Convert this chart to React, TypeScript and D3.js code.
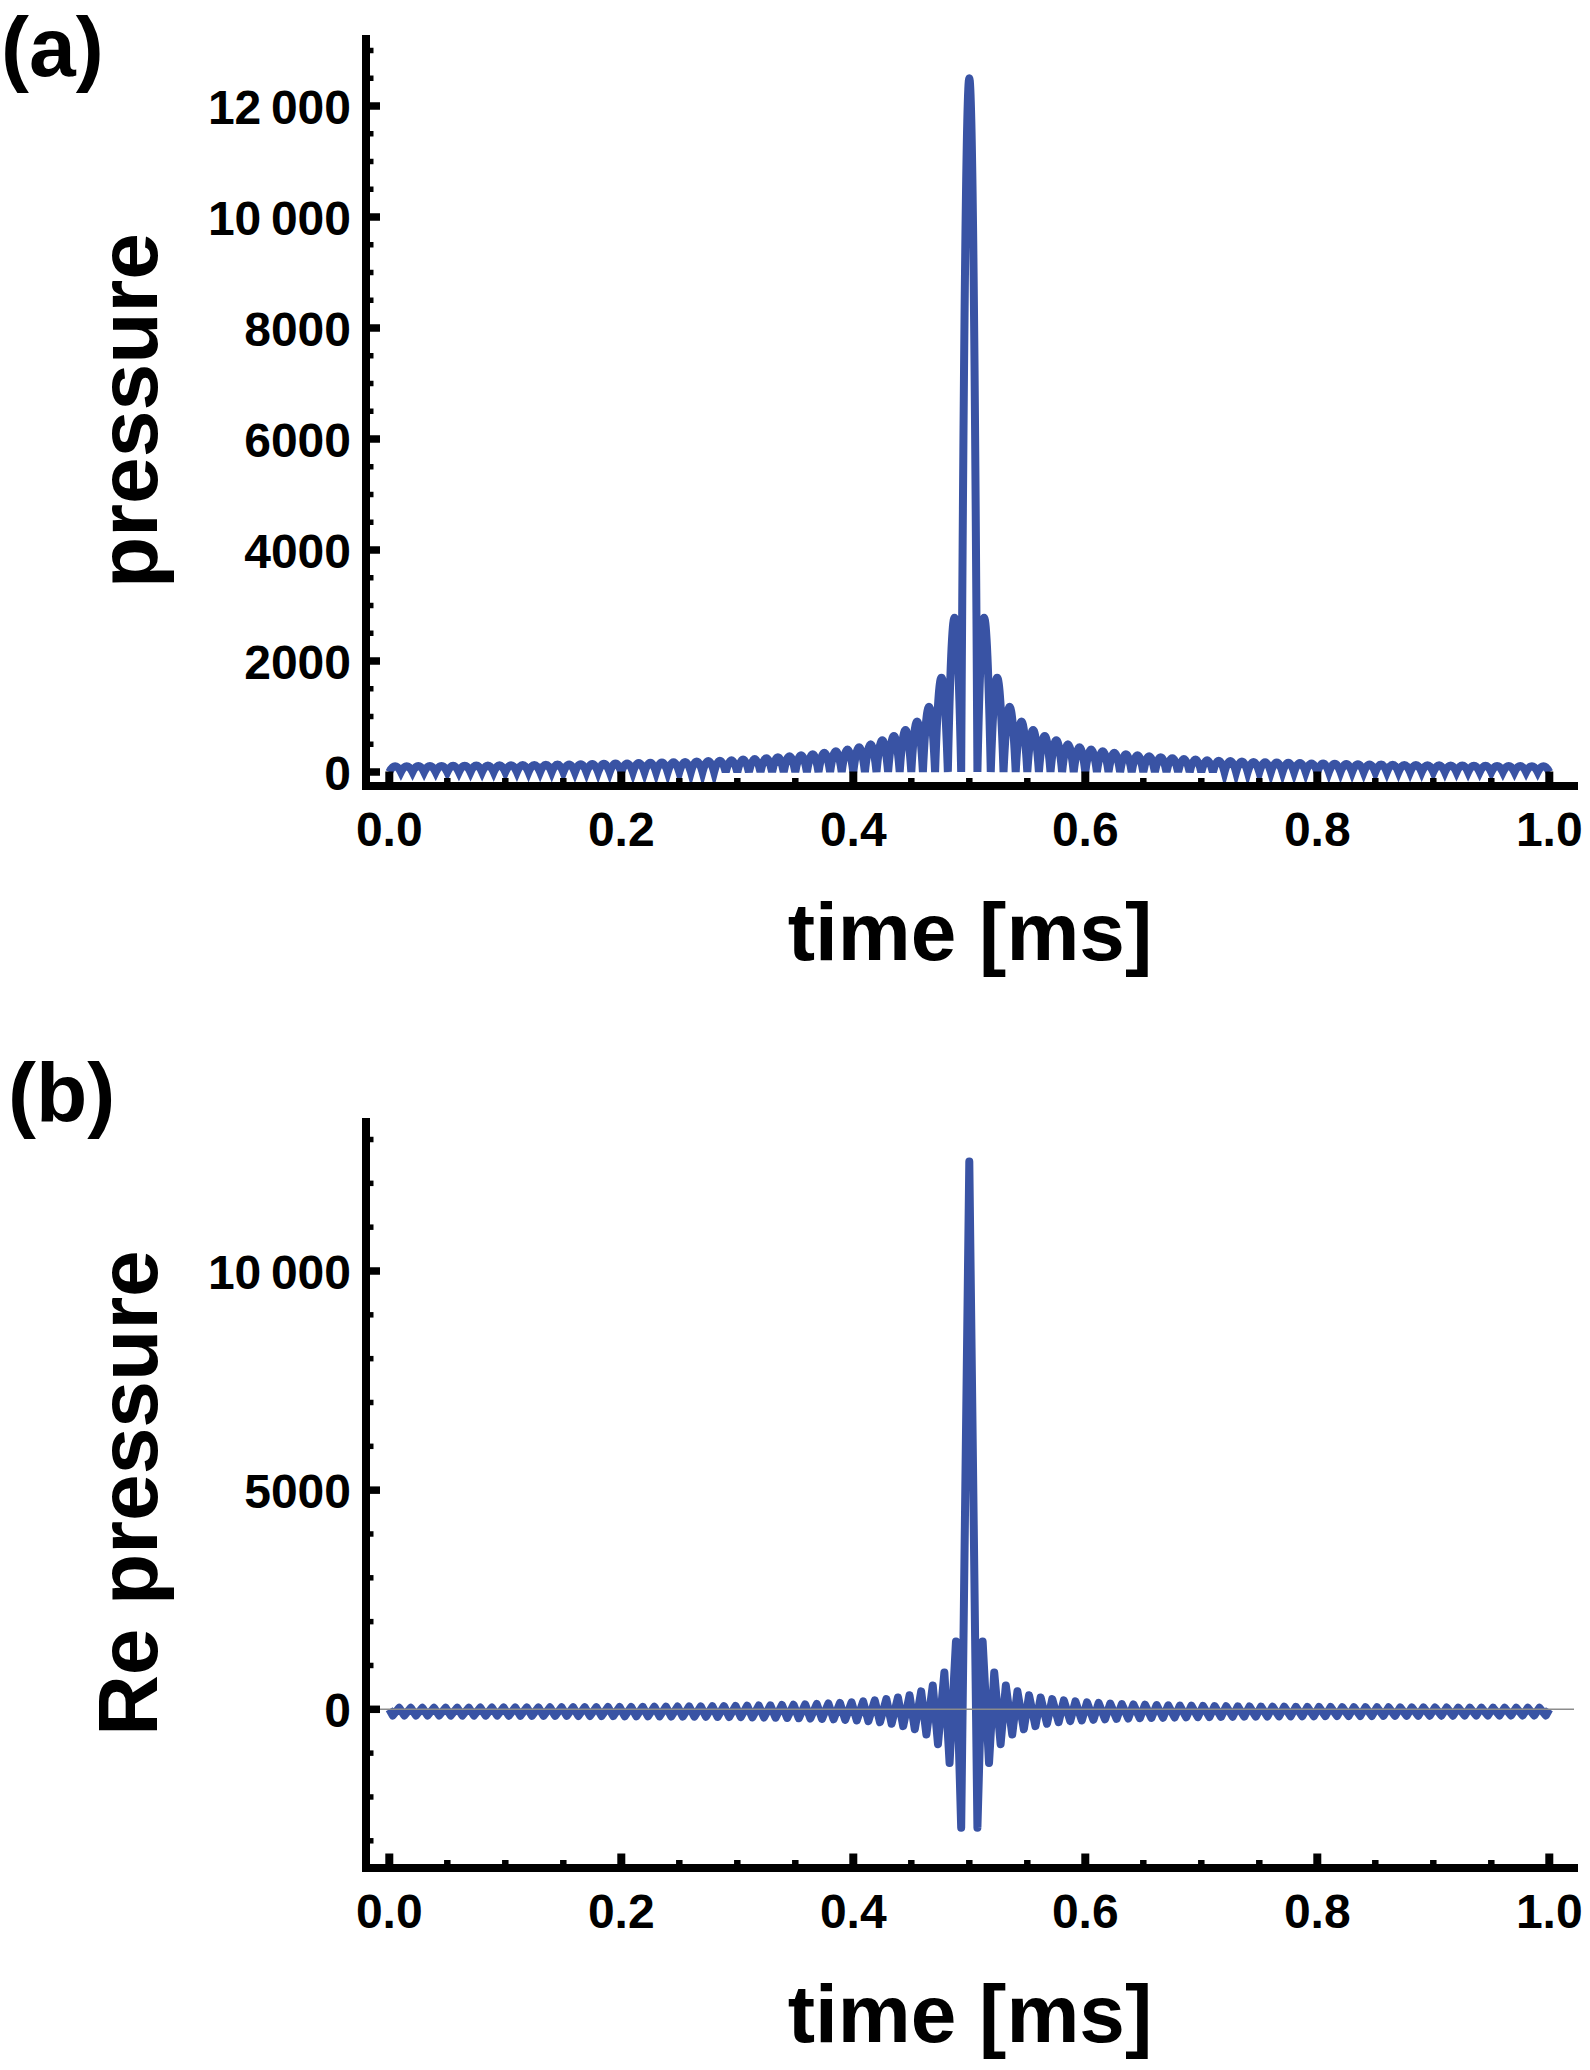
import React from "react";
import * as d3 from "d3";

const WIDTH = 1590;
const HEIGHT = 2070;
const BLUE = "#3953a4";
const FONT = "'Liberation Sans', Arial, Helvetica, sans-serif";

// ---------- shared time axis ----------
const timeMajorTicks = [0, 0.2, 0.4, 0.6, 0.8, 1.0];
const timeMajorLabels = ["0.0", "0.2", "0.4", "0.6", "0.8", "1.0"];
const timeMinorTicks = [0.05, 0.1, 0.15, 0.25, 0.3, 0.35, 0.45, 0.5, 0.55, 0.65, 0.7, 0.75, 0.85, 0.9, 0.95];

// ---------- panel (a): pressure ----------
const pressureMajorTicks = [0, 2000, 4000, 6000, 8000, 10000, 12000];
const pressureMajorLabels = ["0", "2000", "4000", "6000", "8000", "10\u2009000", "12\u2009000"];
const pressureMinorTicks = [500, 1000, 1500, 2500, 3000, 3500, 4500, 5000, 5500, 6500, 7000, 7500, 8500, 9000, 9500, 10500, 11000, 11500, 12500, 13000];

const pulseCentre = 0.5; // ms
const absPeak = 12500;
// zero crossings of |p|, measured as offsets (ms) from the pulse centre
const absZeroOffsetsNear = [0.007, 0.0185, 0.0295, 0.04];
const absZeroOffsetsFarIdx = d3.range(5, 51); // 0.05 ... 0.50 ms, every 0.01 ms
// side-lobe heights, from the centre outwards
const absLobesLeft = [
  2780, 1700, 1175, 910, 755, 648, 570, 502, 445, 405,
  375, 347, 322, 303, 282, 265, 248, 235, 224, 213,
  204, 196, 189, 182, 176, 170, 165, 160, 155, 151,
  147, 143, 140, 136, 133, 130, 127, 125, 122, 120,
  118, 116, 114, 112, 110, 108, 107, 105, 104,
];
const absLobesRight = [
  2780, 1700, 1175, 910, 755, 648, 570, 502, 445, 405,
  375, 347, 322, 303, 282, 265, 248, 235, 224, 213,
  204, 196, 189, 182, 176, 170, 165, 160, 155, 151,
  147, 143, 140, 136, 133, 130, 127, 125, 122, 120,
  118, 116, 114, 112, 110, 108, 107, 105, 104,
];

// ---------- panel (b): Re pressure ----------
const rePressureMajorTicks = [0, 5000, 10000];
const rePressureMajorLabels = ["0", "5000", "10\u2009000"];
const rePressureMinorTicks = [-3000, -2000, -1000, 1000, 2000, 3000, 4000, 6000, 7000, 8000, 9000, 11000, 12000, 13000];

const rePeak = 12500;
// sample grid of the oscillation: minima at 0.007 + 0.01(k-1), maxima at 0.0115 + 0.01(k-1) ms from the centre
const reMinIdx = d3.range(1, 51);
const reMaxIdx = d3.range(1, 50);
const reMinLeft = [
  -2700, -1225, -795, -575, -455, -385, -330, -295, -270, -255,
  -240, -228, -218, -210, -203, -197, -192, -187, -183, -179,
  -176, -173, -170, -168, -166, -164, -162, -160, -158, -157,
  -155, -154, -153, -152, -151, -150, -149, -148, -147, -146,
  -145, -145, -144, -143, -143, -142, -142, -141, -141, -140,
];
const reMinRight = [
  -2700, -1225, -795, -575, -455, -385, -330, -295, -270, -255,
  -240, -228, -218, -210, -203, -197, -192, -187, -183, -179,
  -176, -173, -170, -168, -166, -164, -162, -160, -158, -157,
  -155, -154, -153, -152, -151, -150, -149, -148, -147, -146,
  -145, -145, -144, -143, -143, -142, -142, -141, -141, -140,
];
const reMaxLeft = [
  1545, 840, 545, 410, 320, 270, 232, 203, 180, 160,
  145, 132, 121, 112, 104, 97, 91, 86, 81, 77,
  73, 70, 67, 64, 62, 60, 58, 56, 54, 52,
  51, 49, 48, 47, 46, 45, 44, 43, 42, 41,
  40, 39, 38, 38, 37, 36, 36, 35, 35,
];
const reMaxRight = [
  1545, 840, 545, 410, 320, 270, 232, 203, 180, 160,
  145, 132, 121, 112, 104, 97, 91, 86, 81, 77,
  73, 70, 67, 64, 62, 60, 58, 56, 54, 52,
  51, 49, 48, 47, 46, 45, 44, 43, 42, 41,
  40, 39, 38, 38, 37, 36, 36, 35, 35,
];

// ---------- layout ----------
const xRange: [number, number] = [389.3, 1549.3];
const axisLeftX = 366;
const axisRightX = 1578;

type PanelProps = {
  tag: string;
  tagX: number;
  tagY: number;
  yLabel: string;
  yScale: d3.ScaleLinear<number, number>;
  axisTop: number;
  axisY: number;
  majorTicks: number[];
  majorLabels: string[];
  minorTicks: number[];
  children?: React.ReactNode;
};

const x = d3.scaleLinear().domain([0, 1]).range(xRange);

function Panel(p: PanelProps) {
  const y = p.yScale;
  const midY = (p.axisTop + p.axisY) / 2;
  return (
    <g>
      <text x={p.tagX} y={p.tagY} fontSize={84} fontWeight="bold" fontFamily={FONT}>{p.tag}</text>
      {p.children}
      {/* y axis */}
      <line x1={axisLeftX} x2={axisLeftX} y1={p.axisTop} y2={p.axisY + 4} stroke="#000" strokeWidth={8} />
      {p.majorTicks.map((v, i) => (
        <g key={"ym" + i}>
          <line x1={axisLeftX} x2={axisLeftX + 14} y1={y(v)} y2={y(v)} stroke="#000" strokeWidth={7.5} />
          <text x={351} y={y(v) + 17.5} textAnchor="end" fontSize={48} fontWeight="bold" fontFamily={FONT}>{p.majorLabels[i]}</text>
        </g>
      ))}
      {p.minorTicks.map((v, i) => (
        <line key={"yn" + i} x1={axisLeftX} x2={axisLeftX + 7.5} y1={y(v)} y2={y(v)} stroke="#000" strokeWidth={5.5} />
      ))}
      {/* x axis */}
      <line x1={axisLeftX - 4} x2={axisRightX} y1={p.axisY} y2={p.axisY} stroke="#000" strokeWidth={8} />
      {timeMajorTicks.map((v, i) => (
        <g key={"xm" + i}>
          <line x1={x(v)} x2={x(v)} y1={p.axisY} y2={p.axisY - 14.5} stroke="#000" strokeWidth={8} />
          <text x={x(v)} y={p.axisY + 60} textAnchor="middle" fontSize={48} fontWeight="bold" fontFamily={FONT}>{timeMajorLabels[i]}</text>
        </g>
      ))}
      {timeMinorTicks.map((v, i) => (
        <line key={"xn" + i} x1={x(v)} x2={x(v)} y1={p.axisY} y2={p.axisY - 8} stroke="#000" strokeWidth={6.5} />
      ))}
      <text x={(axisLeftX + axisRightX) / 2 - 2} y={p.axisY + 174} textAnchor="middle" fontSize={82} fontWeight="bold" fontFamily={FONT}>time [ms]</text>
      <text transform={`translate(157, ${midY}) rotate(-90)`} textAnchor="middle" fontSize={84} fontWeight="bold" fontFamily={FONT}>{p.yLabel}</text>
    </g>
  );
}

export default function App() {
  // panel a scale
  const axisTopA = 35;
  const axisYA = 786;
  const yA = d3.scaleLinear().domain([0, 12000]).range([772, 106]);

  const zeros = [...absZeroOffsetsNear, ...absZeroOffsetsFarIdx.map((i) => i / 100)];
  const pa = d3.path();
  const last = zeros.length - 1;
  pa.moveTo(x(pulseCentre - zeros[last]), yA(0));
  for (let i = last - 1; i >= 0; i--) {
    const a = pulseCentre - zeros[i + 1];
    const b = pulseCentre - zeros[i];
    pa.quadraticCurveTo(x((a + b) / 2), yA(2 * absLobesLeft[i]), x(b), yA(0));
  }
  pa.quadraticCurveTo(x(pulseCentre), yA(2 * absPeak), x(pulseCentre + zeros[0]), yA(0));
  for (let i = 0; i < last; i++) {
    const a = pulseCentre + zeros[i];
    const b = pulseCentre + zeros[i + 1];
    pa.quadraticCurveTo(x((a + b) / 2), yA(2 * absLobesRight[i]), x(b), yA(0));
  }

  // panel b scale
  const axisTopB = 1118;
  const axisYB = 1868;
  const yB = d3.scaleLinear().domain([0, 10000]).range([1709.3, 1271]);

  const pts: [number, number][] = [[0, 0]];
  for (let j = reMinIdx.length - 1; j >= 0; j--) {
    const k = reMinIdx[j];
    if (j < reMaxIdx.length) pts.push([pulseCentre - (0.0115 + 0.01 * (k - 1)), reMaxLeft[j]]);
    pts.push([pulseCentre - (0.007 + 0.01 * (k - 1)), reMinLeft[j]]);
  }
  pts.push([pulseCentre, rePeak]);
  for (let j = 0; j < reMinIdx.length; j++) {
    const k = reMinIdx[j];
    pts.push([pulseCentre + 0.007 + 0.01 * (k - 1), reMinRight[j]]);
    if (j < reMaxIdx.length) pts.push([pulseCentre + 0.0115 + 0.01 * (k - 1), reMaxRight[j]]);
  }
  pts.push([1, 0]);
  const lineB = d3
    .line<[number, number]>()
    .x((d) => x(d[0]))
    .y((d) => yB(d[1]))
    .curve(d3.curveLinear);

  return (
    <svg
      width={WIDTH}
      height={HEIGHT}
      viewBox={`0 0 ${WIDTH} ${HEIGHT}`}
      style={{ position: "absolute", left: 0, top: 0, background: "#fff", display: "block" }}
    >
      <rect width={WIDTH} height={HEIGHT} fill="#fff" />
      <Panel
        tag="(a)"
        tagX={1}
        tagY={76}
        yLabel="pressure"
        yScale={yA}
        axisTop={axisTopA}
        axisY={axisYA}
        majorTicks={pressureMajorTicks}
        majorLabels={pressureMajorLabels}
        minorTicks={pressureMinorTicks}
      >
        <path d={pa.toString()} fill="none" stroke={BLUE} strokeWidth={8} strokeLinejoin="miter" strokeMiterlimit={4} />
      </Panel>
      <Panel
        tag="(b)"
        tagX={8}
        tagY={1122}
        yLabel="Re pressure"
        yScale={yB}
        axisTop={axisTopB}
        axisY={axisYB}
        majorTicks={rePressureMajorTicks}
        majorLabels={rePressureMajorLabels}
        minorTicks={rePressureMinorTicks}
      >
        <path d={lineB(pts) || ""} fill="none" stroke={BLUE} strokeWidth={8} strokeLinejoin="round" />
        <line x1={axisLeftX + 4} x2={1574} y1={yB(0)} y2={yB(0)} stroke="#8c8c8c" strokeWidth={1.5} />
      </Panel>
    </svg>
  );
}
